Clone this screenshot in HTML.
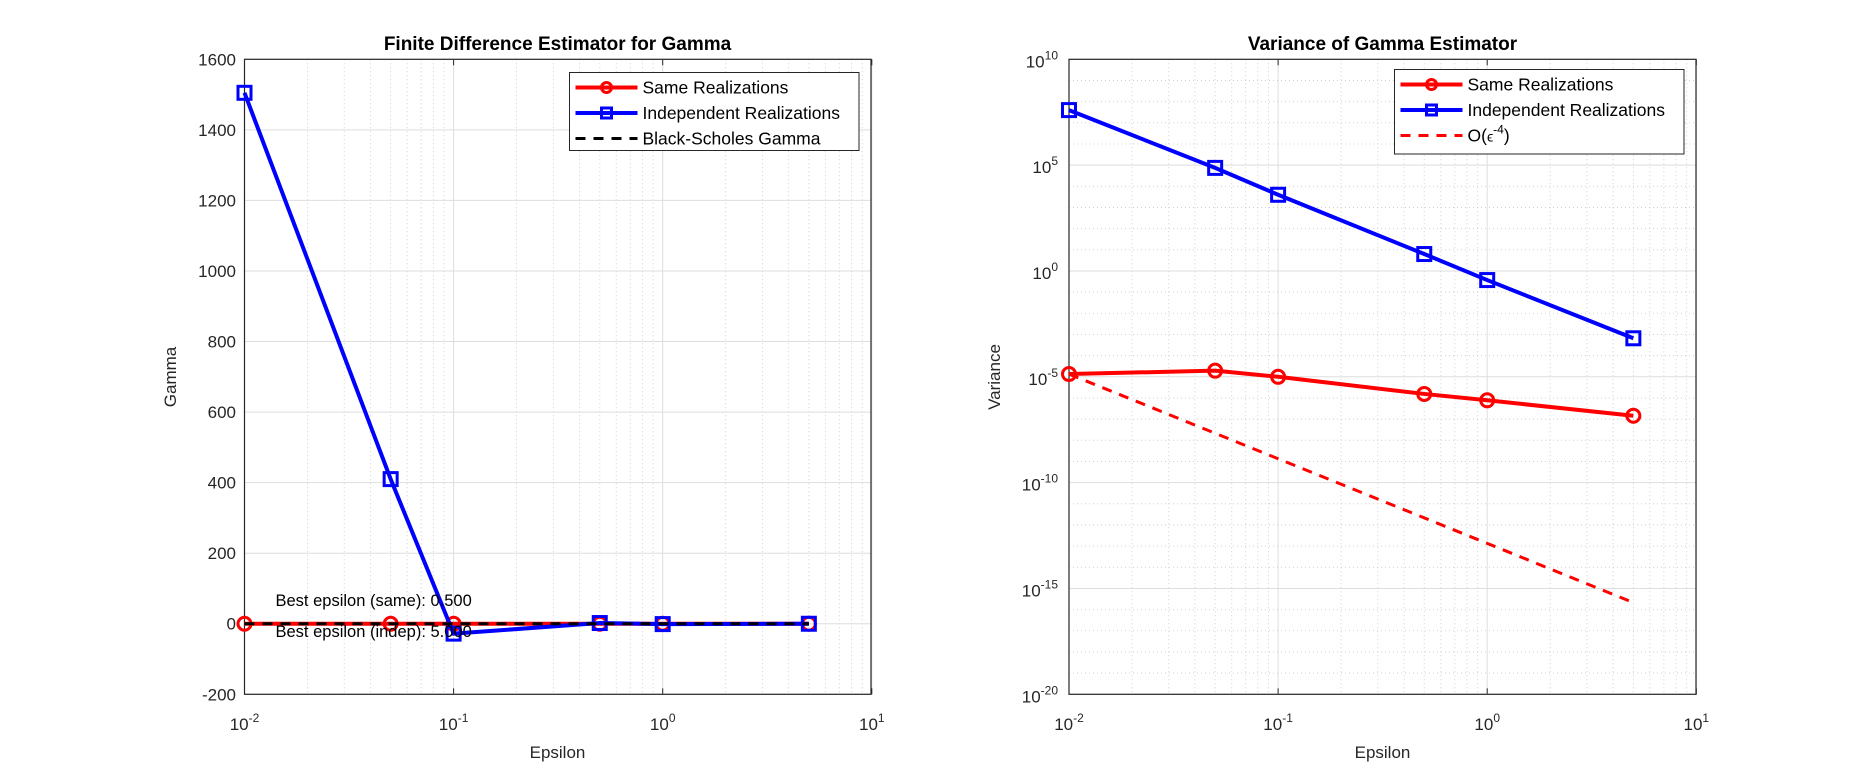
<!DOCTYPE html>
<html><head><meta charset="utf-8"><style>
body{margin:0;background:#fff;}
svg{display:block;font-family:"Liberation Sans",Arial,sans-serif;}
</style></head><body>
<svg id="c" width="1875" height="781"></svg>
<script>
const eps=[0.01,0.05,0.1,0.5,1,5];
const gammaSame=[0,0,0,0,0,0];
const gammaIndep=[1505,410,-28,2,-1,0];
const gammaBS=[0,0,0,0,0,0];
const varSameExp=[-4.87,-4.71,-5.0,-5.81,-6.11,-6.84];
const varIndepExp=[7.6,4.87,3.6,0.8,-0.43,-3.18];
const leftYTicks=[-200,0,200,400,600,800,1000,1200,1400,1600];
const xTickExp=[-2,-1,0,1];
const rightYTickExp=[-20,-15,-10,-5,0,5,10];

const NS="http://www.w3.org/2000/svg";
const svg=document.getElementById('c');
function mk(tag,at,parent){const e=document.createElementNS(NS,tag);for(const k in at)e.setAttribute(k,at[k]);(parent||svg).appendChild(e);return e;}
const yTop=59.3,yBot=694.3;
function sx(L){return v=>L+(Math.log10(v)+2)*209.1;}
const Lx=sx(244.5), Rx=sx(1069);
const Ly=v=>yBot-(v+200)*(yBot-yTop)/1800;
const Ry=e=>yBot-(e+20)*(yBot-yTop)/30;

function axesFrame(L,R,name){
  const g=mk('g',{});
  
  
  const xf=(name==='left-axes'?Lx:Rx);
  for(let d=-2;d<1;d++)for(let m=2;m<=9;m++){const x=xf(m*Math.pow(10,d));mk('line',{x1:x,x2:x,y1:yTop,y2:yBot,stroke:'#d0d0d0','stroke-dasharray':'1,3','stroke-width':1},g);}
  xTickExp.forEach(e=>{const x=xf(Math.pow(10,e));mk('line',{x1:x,x2:x,y1:yTop,y2:yBot,stroke:'#dedede','stroke-width':1},g);
    const t=mk('text',{x:x,y:730,'text-anchor':'middle','font-size':17,fill:'#262626'},g);
    
    t.innerHTML='10<tspan dy="-8" font-size="12">'+e+'</tspan>';
    mk('line',{x1:x,x2:x,y1:yBot,y2:yBot-6,stroke:'#262626'},g);mk('line',{x1:x,x2:x,y1:yTop,y2:yTop+6,stroke:'#262626'},g);});
  return g;
}
const gl=axesFrame(244.5,871,'left-axes');
leftYTicks.forEach(v=>{const y=Ly(v);mk('line',{x1:244.5,x2:871,y1:y,y2:y,stroke:'#dedede'},gl);
  const t=mk('text',{x:236,y:y+6,'text-anchor':'end','font-size':17,fill:'#262626'},gl);t.textContent=v;
  });
mk('rect',{x:244.5,y:yTop,width:626.5,height:yBot-yTop,fill:'none',stroke:'#262626','stroke-width':1.2},gl);
const gr=axesFrame(1069,1696,'right-axes');
for(let e=-20;e<=10;e++){const y=Ry(e);const maj=e%5===0;
  mk('line',{x1:1069,x2:1696,y1:y,y2:y,stroke:maj?'#dedede':'#d0d0d0','stroke-dasharray':maj?'none':'1,3'},gr);}
rightYTickExp.forEach(e=>{const y=Ry(e);const t=mk('text',{x:1058,y:y+8,'text-anchor':'end','font-size':17,fill:'#262626'},gr);
  
  t.innerHTML='10<tspan dy="-8" font-size="12">'+e+'</tspan>';});
mk('rect',{x:1069,y:yTop,width:627,height:yBot-yTop,fill:'none',stroke:'#262626','stroke-width':1.2},gr);

function series(xf,yf,xs,ys,color,marker,name,dash){
  const g=mk('g',{});
  
  
  mk('polyline',{points:xs.map((x,i)=>xf(x)+','+yf(ys[i])).join(' '),fill:'none',stroke:color,'stroke-width':dash?3:4,'stroke-dasharray':dash||'none'},g);
  xs.forEach((x,i)=>{const X=xf(x),Y=yf(ys[i]);
    if(marker==='o'){const m=mk('circle',{cx:X,cy:Y,r:6.5,fill:'none',stroke:color,'stroke-width':3},g);}
    if(marker==='s'){const m=mk('rect',{x:X-6.5,y:Y-6.5,width:13,height:13,fill:'none',stroke:color,'stroke-width':3},g);}});
}
series(Lx,Ly,eps,gammaSame,'#ff0000','o','same-realizations-gamma');
series(Lx,Ly,eps,gammaIndep,'#0000ff','s','independent-realizations-gamma');
series(Lx,Ly,eps,gammaBS,'#000','', 'black-scholes-gamma','10,8');
series(Rx,Ry,eps,varSameExp,'#ff0000','o','same-realizations-variance');
series(Rx,Ry,eps,varIndepExp,'#0000ff','s','independent-realizations-variance');
const refExp=eps.map(e=>varSameExp[0]-4*Math.log10(e/eps[0]));
series(Rx,Ry,eps,refExp,'#ff0000','','order-eps-minus-4-reference','10,8');

function text(x,y,s,at,name){const t=mk('text',Object.assign({x:x,y:y,'font-size':17,fill:'#262626'},at||{}));t.innerHTML=s;return t;}
text(557.5,50,'Finite Difference Estimator for Gamma',{'text-anchor':'middle','font-weight':'bold','font-size':19,fill:'#000'},'left-title');
text(1382.5,50,'Variance of Gamma Estimator',{'text-anchor':'middle','font-weight':'bold','font-size':19,fill:'#000'},'right-title');
text(557.5,758,'Epsilon',{'text-anchor':'middle'},'left-x-axis-title');
text(1382.5,758,'Epsilon',{'text-anchor':'middle'},'right-x-axis-title');
text(0,0,'Gamma',{'text-anchor':'middle',transform:'translate(176,377) rotate(-90)'},'left-y-axis-title');
text(0,0,'Variance',{'text-anchor':'middle',transform:'translate(1000,377) rotate(-90)'},'right-y-axis-title');
text(275.5,606,'Best epsilon (same): 0.500',{fill:'#000','font-size':16.5},'annotation-best-same');
text(275.5,637,'Best epsilon (indep): 5.000',{fill:'#000','font-size':16.5},'annotation-best-indep');

function legend(x,y,w,h,items,name){
  const g=mk('g',{});
  
  
  mk('rect',{x:x,y:y,width:w,height:h,fill:'#fff',stroke:'#262626','stroke-width':1},g);
  items.forEach((it,i)=>{const yy=y+15+i*25.5;const e=mk('g',{},g);
    
    mk('line',{x1:x+6,x2:x+68,y1:yy,y2:yy,stroke:it.c,'stroke-width':it.d?3:4,'stroke-dasharray':it.d?'10,8':'none'},e);
    if(it.m==='o')mk('circle',{cx:x+37,cy:yy,r:5,fill:'none',stroke:it.c,'stroke-width':3},e);
    if(it.m==='s')mk('rect',{x:x+32,y:yy-5,width:10,height:10,fill:'none',stroke:it.c,'stroke-width':3},e);
    const t=mk('text',{x:x+73,y:yy+6,'font-size':17.5,fill:'#000'},e);t.innerHTML=it.t;});
}
legend(569.5,72.5,289.5,78,[{c:'#ff0000',m:'o',t:'Same Realizations'},{c:'#0000ff',m:'s',t:'Independent Realizations'},{c:'#000',d:1,t:'Black-Scholes Gamma'}],'left-legend');
legend(1394.5,69.5,289.5,84.5,[{c:'#ff0000',m:'o',t:'Same Realizations'},{c:'#0000ff',m:'s',t:'Independent Realizations'},{c:'#ff0000',d:1,t:'O(<tspan font-size="14">ϵ</tspan><tspan dy="-8" font-size="12">-4</tspan><tspan dy="8">)</tspan>'}],'right-legend');
</script>
</body></html>
